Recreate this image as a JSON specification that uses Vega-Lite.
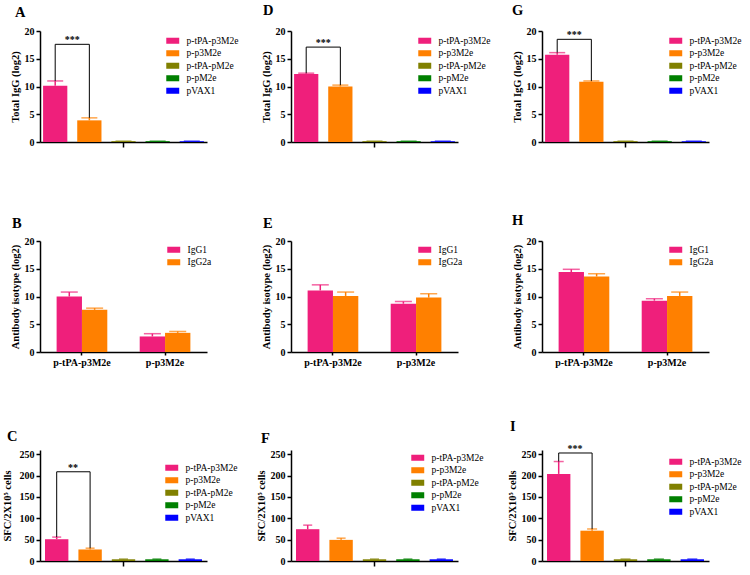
{
  "$schema": "https://vega.github.io/schema/vega-lite/v6.json",
  "padding": {"left": 2, "top": 2, "right": 5, "bottom": 2},
  "spacing": 52,
  "resolve": {"scale": {"color": "independent"}, "legend": {"color": "independent"}},
  "vconcat": [
    {
      "bounds": "flush",
      "spacing": 84,
      "resolve": {"scale": {"color": "independent"}, "legend": {"color": "independent"}},
      "hconcat": [
        {
          "width": 167, "height": 111,
          "title": {"text": "A", "dx": -25, "offset": 6},
          "data": {"values": [
            {"s": "p-tPA-p3M2e", "m": 10.15, "hi": 11.0},
            {"s": "p-p3M2e", "m": 3.9, "hi": 4.35},
            {"s": "p-tPA-pM2e", "m": 0.15, "hi": 0.15},
            {"s": "p-pM2e", "m": 0.15, "hi": 0.15},
            {"s": "pVAX1", "m": 0.15, "hi": 0.15}
          ]},
          "encoding": {
            "x": {"field": "s", "type": "nominal", "sort": null, "scale": {"domain": ["p-tPA-p3M2e", "p-p3M2e", "p-tPA-pM2e", "p-pM2e", "pVAX1"], "paddingInner": 0.29, "paddingOuter": 0.09}, "axis": {"title": null, "labels": false, "values": ["p-tPA-pM2e"], "tickSize": 5, "minExtent": 18}}
          },
          "layer": [
            {"mark": {"type": "bar"}, "encoding": {
              "y": {"field": "m", "type": "quantitative", "title": "Total IgG (log2)", "scale": {"domain": [0, 20]}, "axis": {"values": [0, 5, 10, 15, 20]}},
              "color": {"field": "s", "type": "nominal", "scale": {"domain": ["p-tPA-p3M2e", "p-p3M2e", "p-tPA-pM2e", "p-pM2e", "pVAX1"], "range": ["#EF1F7B", "#FF8000", "#808000", "#008000", "#0000FF"]}, "legend": {"title": null, "orient": "none", "legendX": 128, "legendY": 5}}
            }},
            {"mark": {"type": "rule", "strokeWidth": 1.5}, "encoding": {
              "y": {"field": "m", "type": "quantitative", "title": "Total IgG (log2)", "axis": {"values": [0, 5, 10, 15, 20]}}, "y2": {"field": "hi"},
              "color": {"field": "s", "type": "nominal", "legend": null}
            }},
            {"mark": {"type": "tick", "size": 16, "thickness": 1.5}, "encoding": {
              "y": {"field": "hi", "type": "quantitative", "title": "Total IgG (log2)", "axis": {"values": [0, 5, 10, 15, 20]}},
              "color": {"field": "s", "type": "nominal", "legend": null}
            }},
            {"data": {"values": [
              {"s": "p-tPA-p3M2e", "v": 11.0, "o": 1},
              {"s": "p-tPA-p3M2e", "v": 17.6, "o": 2},
              {"s": "p-p3M2e", "v": 17.6, "o": 3},
              {"s": "p-p3M2e", "v": 4.35, "o": 4}
            ]}, "mark": {"type": "line", "color": "black", "strokeWidth": 1}, "encoding": {
              "y": {"field": "v", "type": "quantitative", "title": "Total IgG (log2)", "axis": {"values": [0, 5, 10, 15, 20]}},
              "order": {"field": "o", "type": "quantitative"}
            }},
            {"data": {"values": [{"s": "p-tPA-p3M2e", "v": 17.6, "t": "***"}]}, "mark": {"type": "text", "baseline": "bottom", "dy": 1, "fontSize": 10, "fontWeight": "bold", "color": "black"}, "encoding": {
              "x": {"field": "s", "type": "nominal", "sort": null, "bandPosition": 1.2, "scale": {"domain": ["p-tPA-p3M2e", "p-p3M2e", "p-tPA-pM2e", "p-pM2e", "pVAX1"], "paddingInner": 0.29, "paddingOuter": 0.09}, "axis": {"title": null, "labels": false, "values": ["p-tPA-pM2e"], "tickSize": 5, "minExtent": 18}},
              "y": {"field": "v", "type": "quantitative", "title": "Total IgG (log2)", "axis": {"values": [0, 5, 10, 15, 20]}},
              "text": {"field": "t"}
            }}
          ]
        },
        {
          "width": 167, "height": 111,
          "title": {"text": "D", "dx": -28, "offset": 8},
          "data": {"values": [
            {"s": "p-tPA-p3M2e", "m": 12.25, "hi": 12.4},
            {"s": "p-p3M2e", "m": 10.0, "hi": 10.25},
            {"s": "p-tPA-pM2e", "m": 0.15, "hi": 0.15},
            {"s": "p-pM2e", "m": 0.15, "hi": 0.15},
            {"s": "pVAX1", "m": 0.15, "hi": 0.15}
          ]},
          "encoding": {
            "x": {"field": "s", "type": "nominal", "sort": null, "scale": {"domain": ["p-tPA-p3M2e", "p-p3M2e", "p-tPA-pM2e", "p-pM2e", "pVAX1"], "paddingInner": 0.29, "paddingOuter": 0.09}, "axis": {"title": null, "labels": false, "values": ["p-tPA-pM2e"], "tickSize": 5, "minExtent": 18}}
          },
          "layer": [
            {"mark": {"type": "bar"}, "encoding": {
              "y": {"field": "m", "type": "quantitative", "title": "Total IgG (log2)", "scale": {"domain": [0, 20]}, "axis": {"values": [0, 5, 10, 15, 20]}},
              "color": {"field": "s", "type": "nominal", "scale": {"domain": ["p-tPA-p3M2e", "p-p3M2e", "p-tPA-pM2e", "p-pM2e", "pVAX1"], "range": ["#EF1F7B", "#FF8000", "#808000", "#008000", "#0000FF"]}, "legend": {"title": null, "orient": "none", "legendX": 129, "legendY": 5}}
            }},
            {"mark": {"type": "rule", "strokeWidth": 1.5}, "encoding": {
              "y": {"field": "m", "type": "quantitative", "title": "Total IgG (log2)", "axis": {"values": [0, 5, 10, 15, 20]}}, "y2": {"field": "hi"},
              "color": {"field": "s", "type": "nominal", "legend": null}
            }},
            {"mark": {"type": "tick", "size": 16, "thickness": 1.5}, "encoding": {
              "y": {"field": "hi", "type": "quantitative", "title": "Total IgG (log2)", "axis": {"values": [0, 5, 10, 15, 20]}},
              "color": {"field": "s", "type": "nominal", "legend": null}
            }},
            {"data": {"values": [
              {"s": "p-tPA-p3M2e", "v": 12.4, "o": 1},
              {"s": "p-tPA-p3M2e", "v": 17.1, "o": 2},
              {"s": "p-p3M2e", "v": 17.1, "o": 3},
              {"s": "p-p3M2e", "v": 10.25, "o": 4}
            ]}, "mark": {"type": "line", "color": "black", "strokeWidth": 1}, "encoding": {
              "y": {"field": "v", "type": "quantitative", "title": "Total IgG (log2)", "axis": {"values": [0, 5, 10, 15, 20]}},
              "order": {"field": "o", "type": "quantitative"}
            }},
            {"data": {"values": [{"s": "p-tPA-p3M2e", "v": 17.1, "t": "***"}]}, "mark": {"type": "text", "baseline": "bottom", "dy": 1, "fontSize": 10, "fontWeight": "bold", "color": "black"}, "encoding": {
              "x": {"field": "s", "type": "nominal", "sort": null, "bandPosition": 1.2, "scale": {"domain": ["p-tPA-p3M2e", "p-p3M2e", "p-tPA-pM2e", "p-pM2e", "pVAX1"], "paddingInner": 0.29, "paddingOuter": 0.09}, "axis": {"title": null, "labels": false, "values": ["p-tPA-pM2e"], "tickSize": 5, "minExtent": 18}},
              "y": {"field": "v", "type": "quantitative", "title": "Total IgG (log2)", "axis": {"values": [0, 5, 10, 15, 20]}},
              "text": {"field": "t"}
            }}
          ]
        },
        {
          "width": 167, "height": 111,
          "title": {"text": "G", "dx": -30, "offset": 8},
          "data": {"values": [
            {"s": "p-tPA-p3M2e", "m": 15.7, "hi": 16.1},
            {"s": "p-p3M2e", "m": 10.85, "hi": 11.0},
            {"s": "p-tPA-pM2e", "m": 0.15, "hi": 0.15},
            {"s": "p-pM2e", "m": 0.15, "hi": 0.15},
            {"s": "pVAX1", "m": 0.15, "hi": 0.15}
          ]},
          "encoding": {
            "x": {"field": "s", "type": "nominal", "sort": null, "scale": {"domain": ["p-tPA-p3M2e", "p-p3M2e", "p-tPA-pM2e", "p-pM2e", "pVAX1"], "paddingInner": 0.29, "paddingOuter": 0.09}, "axis": {"title": null, "labels": false, "values": ["p-tPA-pM2e"], "tickSize": 5, "minExtent": 18}}
          },
          "layer": [
            {"mark": {"type": "bar"}, "encoding": {
              "y": {"field": "m", "type": "quantitative", "title": "Total IgG (log2)", "scale": {"domain": [0, 20]}, "axis": {"values": [0, 5, 10, 15, 20]}},
              "color": {"field": "s", "type": "nominal", "scale": {"domain": ["p-tPA-p3M2e", "p-p3M2e", "p-tPA-pM2e", "p-pM2e", "pVAX1"], "range": ["#EF1F7B", "#FF8000", "#808000", "#008000", "#0000FF"]}, "legend": {"title": null, "orient": "none", "legendX": 129, "legendY": 5}}
            }},
            {"mark": {"type": "rule", "strokeWidth": 1.5}, "encoding": {
              "y": {"field": "m", "type": "quantitative", "title": "Total IgG (log2)", "axis": {"values": [0, 5, 10, 15, 20]}}, "y2": {"field": "hi"},
              "color": {"field": "s", "type": "nominal", "legend": null}
            }},
            {"mark": {"type": "tick", "size": 16, "thickness": 1.5}, "encoding": {
              "y": {"field": "hi", "type": "quantitative", "title": "Total IgG (log2)", "axis": {"values": [0, 5, 10, 15, 20]}},
              "color": {"field": "s", "type": "nominal", "legend": null}
            }},
            {"data": {"values": [
              {"s": "p-tPA-p3M2e", "v": 16.1, "o": 1},
              {"s": "p-tPA-p3M2e", "v": 18.5, "o": 2},
              {"s": "p-p3M2e", "v": 18.5, "o": 3},
              {"s": "p-p3M2e", "v": 11.0, "o": 4}
            ]}, "mark": {"type": "line", "color": "black", "strokeWidth": 1}, "encoding": {
              "y": {"field": "v", "type": "quantitative", "title": "Total IgG (log2)", "axis": {"values": [0, 5, 10, 15, 20]}},
              "order": {"field": "o", "type": "quantitative"}
            }},
            {"data": {"values": [{"s": "p-tPA-p3M2e", "v": 18.5, "t": "***"}]}, "mark": {"type": "text", "baseline": "bottom", "dy": 1, "fontSize": 10, "fontWeight": "bold", "color": "black"}, "encoding": {
              "x": {"field": "s", "type": "nominal", "sort": null, "bandPosition": 1.2, "scale": {"domain": ["p-tPA-p3M2e", "p-p3M2e", "p-tPA-pM2e", "p-pM2e", "pVAX1"], "paddingInner": 0.29, "paddingOuter": 0.09}, "axis": {"title": null, "labels": false, "values": ["p-tPA-pM2e"], "tickSize": 5, "minExtent": 18}},
              "y": {"field": "v", "type": "quantitative", "title": "Total IgG (log2)", "axis": {"values": [0, 5, 10, 15, 20]}},
              "text": {"field": "t"}
            }}
          ]
        }
      ]
    },
    {
      "bounds": "flush",
      "spacing": 84,
      "resolve": {"scale": {"color": "independent"}, "legend": {"color": "independent"}},
      "hconcat": [
        {
          "width": 167, "height": 111,
          "title": {"text": "B", "dx": -28, "offset": 5},
          "data": {"values": [
            {"g": "p-tPA-p3M2e", "iso": "IgG1", "m": 10.0, "hi": 10.8},
            {"g": "p-tPA-p3M2e", "iso": "IgG2a", "m": 7.6, "hi": 7.9},
            {"g": "p-p3M2e", "iso": "IgG1", "m": 2.8, "hi": 3.3},
            {"g": "p-p3M2e", "iso": "IgG2a", "m": 3.45, "hi": 3.7}
          ]},
          "encoding": {
            "x": {"field": "g", "type": "nominal", "sort": null, "scale": {"paddingInner": 0.39, "paddingOuter": 0.2}, "axis": {"title": null, "labelAngle": 0, "tickSize": 3}},
            "xOffset": {"field": "iso", "type": "nominal", "sort": null, "scale": {"paddingInner": 0, "paddingOuter": 0}}
          },
          "layer": [
            {"mark": {"type": "bar"}, "encoding": {
              "y": {"field": "m", "type": "quantitative", "title": "Antibody isotype (log2)", "scale": {"domain": [0, 20]}, "axis": {"values": [0, 5, 10, 15, 20]}},
              "color": {"field": "iso", "type": "nominal", "scale": {"domain": ["IgG1", "IgG2a"], "range": ["#EF1F7B", "#FF8000"]}, "legend": {"title": null, "orient": "none", "legendX": 129, "legendY": 4}}
            }},
            {"mark": {"type": "rule", "strokeWidth": 1.5}, "encoding": {
              "y": {"field": "m", "type": "quantitative", "title": "Antibody isotype (log2)", "axis": {"values": [0, 5, 10, 15, 20]}}, "y2": {"field": "hi"},
              "color": {"field": "iso", "type": "nominal", "legend": null}
            }},
            {"mark": {"type": "tick", "size": 17, "thickness": 1.5}, "encoding": {
              "y": {"field": "hi", "type": "quantitative", "title": "Antibody isotype (log2)", "axis": {"values": [0, 5, 10, 15, 20]}},
              "color": {"field": "iso", "type": "nominal", "legend": null}
            }}
          ]
        },
        {
          "width": 167, "height": 111,
          "title": {"text": "E", "dx": -28, "offset": 5},
          "data": {"values": [
            {"g": "p-tPA-p3M2e", "iso": "IgG1", "m": 11.1, "hi": 12.1},
            {"g": "p-tPA-p3M2e", "iso": "IgG2a", "m": 10.1, "hi": 10.8},
            {"g": "p-p3M2e", "iso": "IgG1", "m": 8.7, "hi": 9.1},
            {"g": "p-p3M2e", "iso": "IgG2a", "m": 9.8, "hi": 10.5}
          ]},
          "encoding": {
            "x": {"field": "g", "type": "nominal", "sort": null, "scale": {"paddingInner": 0.39, "paddingOuter": 0.2}, "axis": {"title": null, "labelAngle": 0, "tickSize": 3}},
            "xOffset": {"field": "iso", "type": "nominal", "sort": null, "scale": {"paddingInner": 0, "paddingOuter": 0}}
          },
          "layer": [
            {"mark": {"type": "bar"}, "encoding": {
              "y": {"field": "m", "type": "quantitative", "title": "Antibody isotype (log2)", "scale": {"domain": [0, 20]}, "axis": {"values": [0, 5, 10, 15, 20]}},
              "color": {"field": "iso", "type": "nominal", "scale": {"domain": ["IgG1", "IgG2a"], "range": ["#EF1F7B", "#FF8000"]}, "legend": {"title": null, "orient": "none", "legendX": 129, "legendY": 4}}
            }},
            {"mark": {"type": "rule", "strokeWidth": 1.5}, "encoding": {
              "y": {"field": "m", "type": "quantitative", "title": "Antibody isotype (log2)", "axis": {"values": [0, 5, 10, 15, 20]}}, "y2": {"field": "hi"},
              "color": {"field": "iso", "type": "nominal", "legend": null}
            }},
            {"mark": {"type": "tick", "size": 17, "thickness": 1.5}, "encoding": {
              "y": {"field": "hi", "type": "quantitative", "title": "Antibody isotype (log2)", "axis": {"values": [0, 5, 10, 15, 20]}},
              "color": {"field": "iso", "type": "nominal", "legend": null}
            }}
          ]
        },
        {
          "width": 167, "height": 111,
          "title": {"text": "H", "dx": -30, "offset": 8},
          "data": {"values": [
            {"g": "p-tPA-p3M2e", "iso": "IgG1", "m": 14.4, "hi": 14.9},
            {"g": "p-tPA-p3M2e", "iso": "IgG2a", "m": 13.6, "hi": 14.1},
            {"g": "p-p3M2e", "iso": "IgG1", "m": 9.25, "hi": 9.6},
            {"g": "p-p3M2e", "iso": "IgG2a", "m": 10.1, "hi": 10.8}
          ]},
          "encoding": {
            "x": {"field": "g", "type": "nominal", "sort": null, "scale": {"paddingInner": 0.39, "paddingOuter": 0.2}, "axis": {"title": null, "labelAngle": 0, "tickSize": 3}},
            "xOffset": {"field": "iso", "type": "nominal", "sort": null, "scale": {"paddingInner": 0, "paddingOuter": 0}}
          },
          "layer": [
            {"mark": {"type": "bar"}, "encoding": {
              "y": {"field": "m", "type": "quantitative", "title": "Antibody isotype (log2)", "scale": {"domain": [0, 20]}, "axis": {"values": [0, 5, 10, 15, 20]}},
              "color": {"field": "iso", "type": "nominal", "scale": {"domain": ["IgG1", "IgG2a"], "range": ["#EF1F7B", "#FF8000"]}, "legend": {"title": null, "orient": "none", "legendX": 129, "legendY": 4}}
            }},
            {"mark": {"type": "rule", "strokeWidth": 1.5}, "encoding": {
              "y": {"field": "m", "type": "quantitative", "title": "Antibody isotype (log2)", "axis": {"values": [0, 5, 10, 15, 20]}}, "y2": {"field": "hi"},
              "color": {"field": "iso", "type": "nominal", "legend": null}
            }},
            {"mark": {"type": "tick", "size": 17, "thickness": 1.5}, "encoding": {
              "y": {"field": "hi", "type": "quantitative", "title": "Antibody isotype (log2)", "axis": {"values": [0, 5, 10, 15, 20]}},
              "color": {"field": "iso", "type": "nominal", "legend": null}
            }}
          ]
        }
      ]
    },
    {
      "bounds": "flush",
      "spacing": 84,
      "resolve": {"scale": {"color": "independent"}, "legend": {"color": "independent"}},
      "hconcat": [
        {
          "width": 167, "height": 111,
          "title": {"text": "C", "dx": -33, "offset": 5},
          "data": {"values": [
            {"s": "p-tPA-p3M2e", "m": 51, "hi": 56},
            {"s": "p-p3M2e", "m": 27, "hi": 30},
            {"s": "p-tPA-pM2e", "m": 4, "hi": 4.5},
            {"s": "p-pM2e", "m": 4, "hi": 4.5},
            {"s": "pVAX1", "m": 4, "hi": 4.5}
          ]},
          "encoding": {
            "x": {"field": "s", "type": "nominal", "sort": null, "scale": {"domain": ["p-tPA-p3M2e", "p-p3M2e", "p-tPA-pM2e", "p-pM2e", "pVAX1"], "paddingInner": 0.3, "paddingOuter": 0.15}, "axis": {"title": null, "labels": false, "values": ["p-tPA-pM2e"], "tickSize": 5}}
          },
          "layer": [
            {"mark": {"type": "bar"}, "encoding": {
              "y": {"field": "m", "type": "quantitative", "title": "SFC/2X10⁵ cells", "scale": {"domain": [0, 250]}, "axis": {"values": [0, 50, 100, 150, 200, 250], "titlePadding": 7}},
              "color": {"field": "s", "type": "nominal", "scale": {"domain": ["p-tPA-p3M2e", "p-p3M2e", "p-tPA-pM2e", "p-pM2e", "pVAX1"], "range": ["#EF1F7B", "#FF8000", "#808000", "#008000", "#0000FF"]}, "legend": {"title": null, "orient": "none", "legendX": 127, "legendY": 13}}
            }},
            {"mark": {"type": "rule", "strokeWidth": 1.5}, "encoding": {
              "y": {"field": "m", "type": "quantitative", "title": "SFC/2X10⁵ cells", "axis": {"values": [0, 50, 100, 150, 200, 250], "titlePadding": 7}}, "y2": {"field": "hi"},
              "color": {"field": "s", "type": "nominal", "legend": null}
            }},
            {"mark": {"type": "tick", "size": 9, "thickness": 1.5}, "encoding": {
              "y": {"field": "hi", "type": "quantitative", "title": "SFC/2X10⁵ cells", "axis": {"values": [0, 50, 100, 150, 200, 250], "titlePadding": 7}},
              "color": {"field": "s", "type": "nominal", "legend": null}
            }},
            {"data": {"values": [
              {"s": "p-tPA-p3M2e", "v": 56, "o": 1},
              {"s": "p-tPA-p3M2e", "v": 209, "o": 2},
              {"s": "p-p3M2e", "v": 209, "o": 3},
              {"s": "p-p3M2e", "v": 30, "o": 4}
            ]}, "mark": {"type": "line", "color": "black", "strokeWidth": 1}, "encoding": {
              "y": {"field": "v", "type": "quantitative", "title": "SFC/2X10⁵ cells", "axis": {"values": [0, 50, 100, 150, 200, 250], "titlePadding": 7}},
              "order": {"field": "o", "type": "quantitative"}
            }},
            {"data": {"values": [{"s": "p-tPA-p3M2e", "v": 209, "t": "**"}]}, "mark": {"type": "text", "baseline": "bottom", "dy": 1, "fontSize": 10, "fontWeight": "bold", "color": "black"}, "encoding": {
              "x": {"field": "s", "type": "nominal", "sort": null, "bandPosition": 1.2, "scale": {"domain": ["p-tPA-p3M2e", "p-p3M2e", "p-tPA-pM2e", "p-pM2e", "pVAX1"], "paddingInner": 0.3, "paddingOuter": 0.15}, "axis": {"title": null, "labels": false, "values": ["p-tPA-pM2e"], "tickSize": 5}},
              "y": {"field": "v", "type": "quantitative", "title": "SFC/2X10⁵ cells", "axis": {"values": [0, 50, 100, 150, 200, 250], "titlePadding": 7}},
              "text": {"field": "t"}
            }}
          ]
        },
        {
          "width": 167, "height": 111,
          "title": {"text": "F", "dx": -30, "offset": 3},
          "data": {"values": [
            {"s": "p-tPA-p3M2e", "m": 74.5, "hi": 84},
            {"s": "p-p3M2e", "m": 49.5, "hi": 53.5},
            {"s": "p-tPA-pM2e", "m": 4, "hi": 4.5},
            {"s": "p-pM2e", "m": 4, "hi": 4.5},
            {"s": "pVAX1", "m": 4, "hi": 4.5}
          ]},
          "encoding": {
            "x": {"field": "s", "type": "nominal", "sort": null, "scale": {"domain": ["p-tPA-p3M2e", "p-p3M2e", "p-tPA-pM2e", "p-pM2e", "pVAX1"], "paddingInner": 0.3, "paddingOuter": 0.15}, "axis": {"title": null, "labels": false, "values": ["p-tPA-pM2e"], "tickSize": 5}}
          },
          "layer": [
            {"mark": {"type": "bar"}, "encoding": {
              "y": {"field": "m", "type": "quantitative", "title": "SFC/2X10⁵ cells", "scale": {"domain": [0, 250]}, "axis": {"values": [0, 50, 100, 150, 200, 250]}},
              "color": {"field": "s", "type": "nominal", "scale": {"domain": ["p-tPA-p3M2e", "p-p3M2e", "p-tPA-pM2e", "p-pM2e", "pVAX1"], "range": ["#EF1F7B", "#FF8000", "#808000", "#008000", "#0000FF"]}, "legend": {"title": null, "orient": "none", "legendX": 122, "legendY": 3}}
            }},
            {"mark": {"type": "rule", "strokeWidth": 1.5}, "encoding": {
              "y": {"field": "m", "type": "quantitative", "title": "SFC/2X10⁵ cells", "axis": {"values": [0, 50, 100, 150, 200, 250]}}, "y2": {"field": "hi"},
              "color": {"field": "s", "type": "nominal", "legend": null}
            }},
            {"mark": {"type": "tick", "size": 9, "thickness": 1.5}, "encoding": {
              "y": {"field": "hi", "type": "quantitative", "title": "SFC/2X10⁵ cells", "axis": {"values": [0, 50, 100, 150, 200, 250]}},
              "color": {"field": "s", "type": "nominal", "legend": null}
            }}
          ]
        },
        {
          "width": 167, "height": 111,
          "title": {"text": "I", "dx": -32, "offset": 9},
          "data": {"values": [
            {"s": "p-tPA-p3M2e", "m": 204, "hi": 233},
            {"s": "p-p3M2e", "m": 71, "hi": 75},
            {"s": "p-tPA-pM2e", "m": 4, "hi": 4.5},
            {"s": "p-pM2e", "m": 4, "hi": 4.5},
            {"s": "pVAX1", "m": 4, "hi": 4.5}
          ]},
          "encoding": {
            "x": {"field": "s", "type": "nominal", "sort": null, "scale": {"domain": ["p-tPA-p3M2e", "p-p3M2e", "p-tPA-pM2e", "p-pM2e", "pVAX1"], "paddingInner": 0.3, "paddingOuter": 0.15}, "axis": {"title": null, "labels": false, "values": ["p-tPA-pM2e"], "tickSize": 5}}
          },
          "layer": [
            {"mark": {"type": "bar"}, "encoding": {
              "y": {"field": "m", "type": "quantitative", "title": "SFC/2X10⁵ cells", "scale": {"domain": [0, 250]}, "axis": {"values": [0, 50, 100, 150, 200, 250]}},
              "color": {"field": "s", "type": "nominal", "scale": {"domain": ["p-tPA-p3M2e", "p-p3M2e", "p-tPA-pM2e", "p-pM2e", "pVAX1"], "range": ["#EF1F7B", "#FF8000", "#808000", "#008000", "#0000FF"]}, "legend": {"title": null, "orient": "none", "legendX": 129, "legendY": 7}}
            }},
            {"mark": {"type": "rule", "strokeWidth": 1.5}, "encoding": {
              "y": {"field": "m", "type": "quantitative", "title": "SFC/2X10⁵ cells", "axis": {"values": [0, 50, 100, 150, 200, 250]}}, "y2": {"field": "hi"},
              "color": {"field": "s", "type": "nominal", "legend": null}
            }},
            {"mark": {"type": "tick", "size": 10, "thickness": 1.5}, "encoding": {
              "y": {"field": "hi", "type": "quantitative", "title": "SFC/2X10⁵ cells", "axis": {"values": [0, 50, 100, 150, 200, 250]}},
              "color": {"field": "s", "type": "nominal", "legend": null}
            }},
            {"data": {"values": [
              {"s": "p-tPA-p3M2e", "v": 233, "o": 1},
              {"s": "p-tPA-p3M2e", "v": 253, "o": 2},
              {"s": "p-p3M2e", "v": 253, "o": 3},
              {"s": "p-p3M2e", "v": 75, "o": 4}
            ]}, "mark": {"type": "line", "color": "black", "strokeWidth": 1}, "encoding": {
              "y": {"field": "v", "type": "quantitative", "title": "SFC/2X10⁵ cells", "axis": {"values": [0, 50, 100, 150, 200, 250]}},
              "order": {"field": "o", "type": "quantitative"}
            }},
            {"data": {"values": [{"s": "p-tPA-p3M2e", "v": 253, "t": "***"}]}, "mark": {"type": "text", "baseline": "bottom", "dy": 1, "fontSize": 10, "fontWeight": "bold", "color": "black"}, "encoding": {
              "x": {"field": "s", "type": "nominal", "sort": null, "bandPosition": 1.2, "scale": {"domain": ["p-tPA-p3M2e", "p-p3M2e", "p-tPA-pM2e", "p-pM2e", "pVAX1"], "paddingInner": 0.3, "paddingOuter": 0.15}, "axis": {"title": null, "labels": false, "values": ["p-tPA-pM2e"], "tickSize": 5}},
              "y": {"field": "v", "type": "quantitative", "title": "SFC/2X10⁵ cells", "axis": {"values": [0, 50, 100, 150, 200, 250]}},
              "text": {"field": "t"}
            }}
          ]
        }
      ]
    }
  ],
  "config": {
    "view": {"stroke": null},
    "font": "Liberation Serif",
    "axis": {"domainColor": "black", "domainWidth": 1.5, "tickColor": "black", "tickWidth": 1.5, "tickSize": 4, "labelFont": "Liberation Serif", "labelFontWeight": "bold", "labelFontSize": 10, "labelColor": "black", "labelPadding": 2, "labelOverlap": false, "titleFont": "Liberation Serif", "titleFontWeight": "bold", "titleFontSize": 10.5, "titleColor": "black", "titlePadding": 4, "grid": false},
    "legend": {"labelFont": "Liberation Serif", "labelFontSize": 9.5, "labelColor": "black", "symbolType": "M-2,-0.93H2V0.93H-2Z", "symbolSize": 42, "symbolStrokeWidth": 0, "rowPadding": 1.5, "labelOffset": 9, "padding": 0},
    "title": {"font": "Liberation Serif", "fontWeight": "bold", "fontSize": 14.5, "color": "black", "anchor": "start", "frame": "group"}
  }
}
